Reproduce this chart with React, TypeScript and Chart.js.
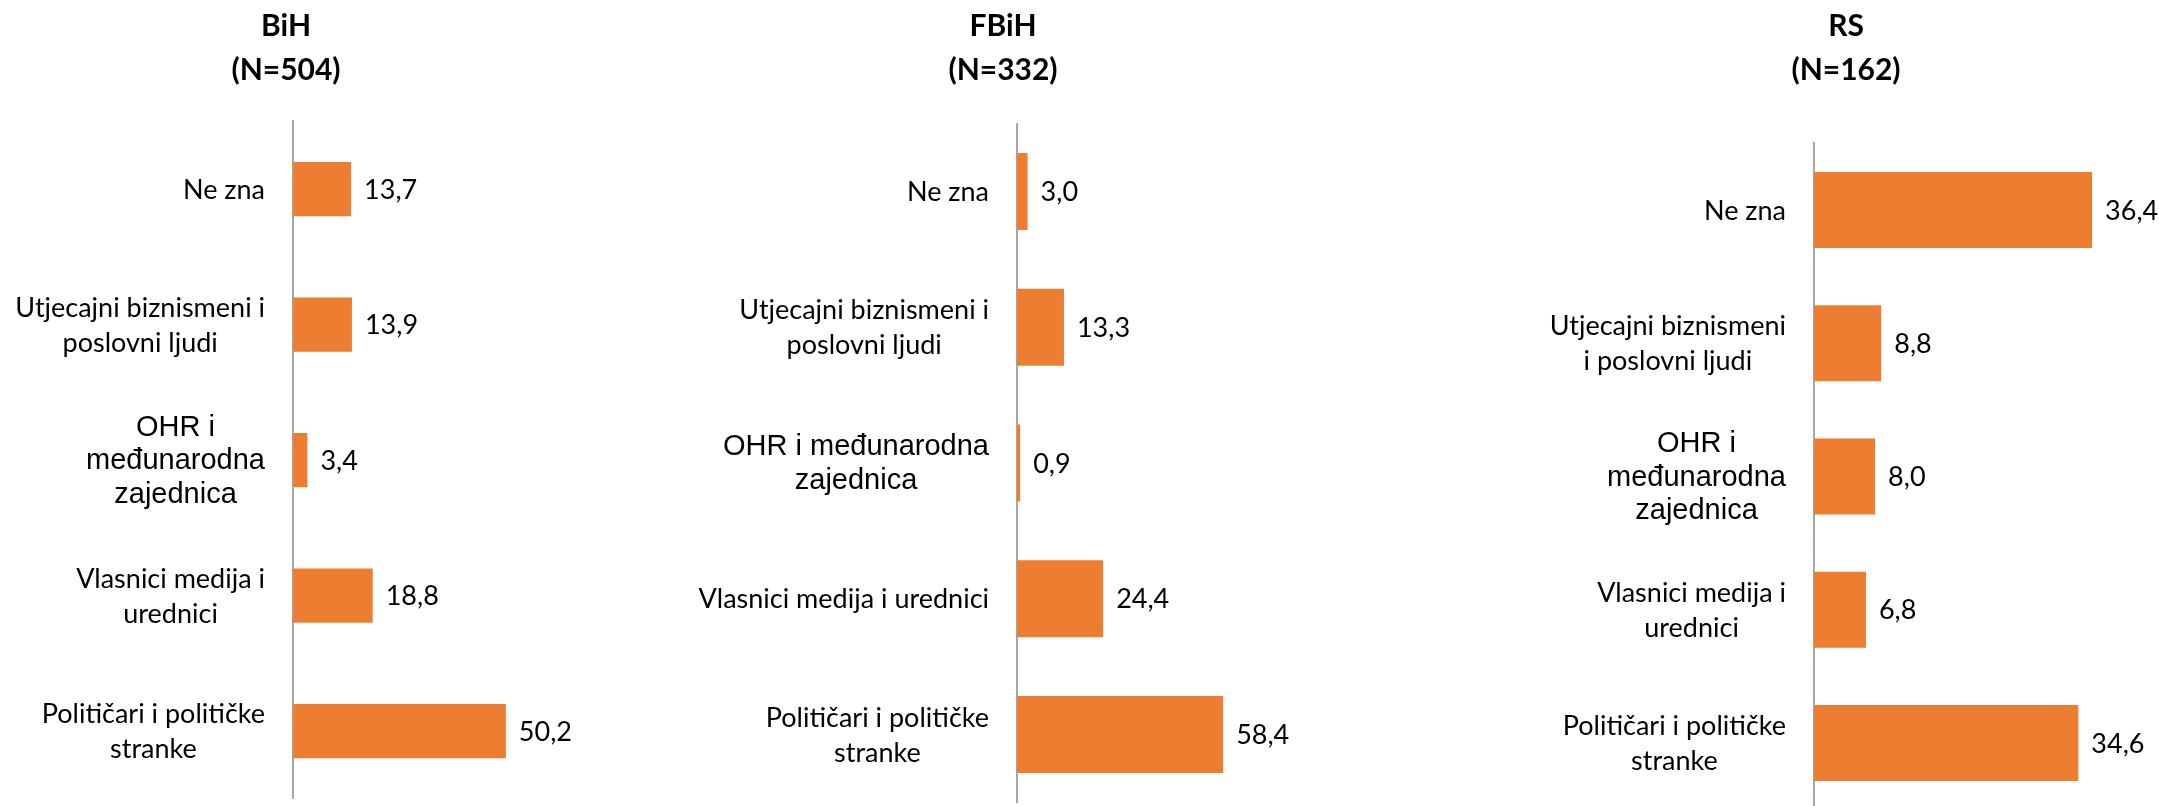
import React, { useEffect, useRef } from "react";
import { Chart, registerables } from "chart.js";

Chart.register(...registerables);

// ---------- DATA ----------
const bihLabels: string[][] = [
  ["Ne zna"],
  ["Utjecajni biznismeni i", "poslovni ljudi"],
  ["OHR i", "međunarodna", "zajednica"],
  ["Vlasnici medija i", "urednici"],
  ["Političari i političke", "stranke"],
];
const bihValues: number[] = [13.7, 13.9, 3.4, 18.8, 50.2];

const fbihLabels: string[][] = [
  ["Ne zna"],
  ["Utjecajni biznismeni i", "poslovni ljudi"],
  ["OHR i međunarodna", "zajednica"],
  ["Vlasnici medija i urednici"],
  ["Političari i političke", "stranke"],
];
const fbihValues: number[] = [3.0, 13.3, 0.9, 24.4, 58.4];

const rsLabels: string[][] = [
  ["Ne zna"],
  ["Utjecajni biznismeni", "i poslovni ljudi"],
  ["OHR i", "međunarodna", "zajednica"],
  ["Vlasnici medija i", "urednici"],
  ["Političari i političke", "stranke"],
];
const rsValues: number[] = [36.4, 8.8, 8.0, 6.8, 34.6];

const bihTitle = ["BiH", "(N=504)"];
const fbihTitle = ["FBiH", "(N=332)"];
const rsTitle = ["RS", "(N=162)"];

// index of the label that uses the Arial-like font
const arialLabelIndex = 2;

// ---------- LAYOUT / STYLE ----------
const BAR_COLOR = "#ED7D31";
const AXIS_COLOR = "#A6A6A6";
const TEXT_COLOR = "#000000";
const LABEL_FONT = "Lato";
const LABEL_SIZE = 27;
const LABEL_LINE = 35;
const ARIAL_FONT = "'Liberation Sans', Arial";
const ARIAL_SIZE = 29;
const ARIAL_LINE = 33.5;
const TITLE_SIZE = 30;
const TITLE_LINE = 44;

interface PanelCfg {
  title: string[];
  labels: string[][];
  values: number[];
  max: number;
  L: number; // canvas left
  W: number; // canvas width
  H: number; // canvas height
  C: number; // title center (page x)
  axisX: number;
  pxPerUnit: number;
  top: number;
  bottom: number;
  barPct: number;
}

const panels: PanelCfg[] = [
  { title: bihTitle, labels: bihLabels, values: bihValues, max: 60, L: 0, W: 600, H: 806, C: 286, axisX: 293, pxPerUnit: 4.24, top: 121.3, bottom: 798.8, barPct: 0.4 },
  { title: fbihTitle, labels: fbihLabels, values: fbihValues, max: 70, L: 640, W: 740, H: 806, C: 1003, axisX: 1017, pxPerUnit: 3.53, top: 123.6, bottom: 802.4, barPct: 0.567 },
  { title: rsTitle, labels: rsLabels, values: rsValues, max: 40, L: 1500, W: 672, H: 812, C: 1846, axisX: 1814, pxPerUnit: 7.64, top: 143.4, bottom: 809.6, barPct: 0.57 },
];

const fmt = (v: number) => v.toFixed(1).replace(".", ",");

const valueLabelPlugin = {
  id: "valueLabels",
  afterDatasetsDraw(chart: any) {
    const ctx = chart.ctx;
    const meta = chart.getDatasetMeta(0);
    const data = chart.data.datasets[0].data as number[];
    ctx.save();
    ctx.font = `${LABEL_SIZE}px ${LABEL_FONT}`;
    ctx.fillStyle = TEXT_COLOR;
    ctx.textAlign = "left";
    ctx.textBaseline = "middle";
    meta.data.forEach((bar: any, i: number) => {
      ctx.fillText(fmt(data[i]), bar.x + 13, bar.y + 1);
    });
    ctx.restore();
  },
};

const categoryLabelPlugin = {
  id: "categoryLabels",
  afterDraw(chart: any) {
    const ctx = chart.ctx;
    const yScale = chart.scales.y;
    const labels = chart.data.labels as string[][];
    const right = chart.chartArea.left - 28;
    ctx.save();
    ctx.fillStyle = TEXT_COLOR;
    ctx.textAlign = "center";
    ctx.textBaseline = "middle";
    labels.forEach((lines, i) => {
      const isArial = i === arialLabelIndex;
      ctx.font = isArial ? `${ARIAL_SIZE}px ${ARIAL_FONT}` : `${LABEL_SIZE}px ${LABEL_FONT}`;
      const lh = isArial ? ARIAL_LINE : LABEL_LINE;
      const maxW = Math.max(...lines.map((l) => ctx.measureText(l).width));
      const cx = right - maxW / 2;
      const cy = yScale.getPixelForValue(i);
      lines.forEach((line, j) => {
        ctx.fillText(line, cx, cy + (j - (lines.length - 1) / 2) * lh + 1);
      });
    });
    ctx.restore();
  },
};

function Panel({ cfg }: { cfg: PanelCfg }) {
  const ref = useRef<HTMLCanvasElement | null>(null);
  useEffect(() => {
    if (!ref.current) return;
    const R = cfg.axisX + cfg.max * cfg.pxPerUnit;
    const pl = 2 * cfg.C - cfg.L - R;
    const pr = cfg.L + cfg.W - R;
    const yWidth = cfg.axisX - cfg.L - pl;
    const chart = new Chart(ref.current, {
      type: "bar",
      data: {
        labels: cfg.labels,
        datasets: [
          {
            data: cfg.values,
            backgroundColor: BAR_COLOR,
            borderWidth: 0,
            barPercentage: cfg.barPct,
            categoryPercentage: 1,
          },
        ],
      },
      options: {
        indexAxis: "y",
        responsive: false,
        animation: false,
        layout: { padding: { left: pl, right: pr, top: 0, bottom: cfg.H - cfg.bottom } },
        plugins: {
          legend: { display: false },
          tooltip: { enabled: false },
          title: {
            display: true,
            text: cfg.title,
            color: TEXT_COLOR,
            font: { family: LABEL_FONT, size: TITLE_SIZE, weight: "bold", lineHeight: TITLE_LINE / TITLE_SIZE },
            padding: { top: 4, bottom: cfg.top - 4 - 2 * TITLE_LINE },
          },
        },
        scales: {
          x: { display: false, min: 0, max: cfg.max },
          y: {
            display: true,
            grid: { display: false },
            ticks: { display: false },
            border: { display: true, color: AXIS_COLOR, width: 2 },
            afterFit: (scale: any) => {
              scale.width = yWidth;
            },
          },
        },
      } as any,
      plugins: [valueLabelPlugin, categoryLabelPlugin],
    });
    return () => chart.destroy();
  }, [cfg]);
  return (
    <canvas
      ref={ref}
      width={cfg.W}
      height={cfg.H}
      style={{ position: "absolute", left: cfg.L, top: 0, width: cfg.W, height: cfg.H }}
    />
  );
}

export default function App() {
  return (
    <div
      style={{
        position: "absolute",
        left: 0,
        top: 0,
        width: 2159,
        height: 806,
        overflow: "hidden",
        background: "#ffffff",
      }}
    >
      {panels.map((p, i) => (
        <Panel key={i} cfg={p} />
      ))}
    </div>
  );
}
